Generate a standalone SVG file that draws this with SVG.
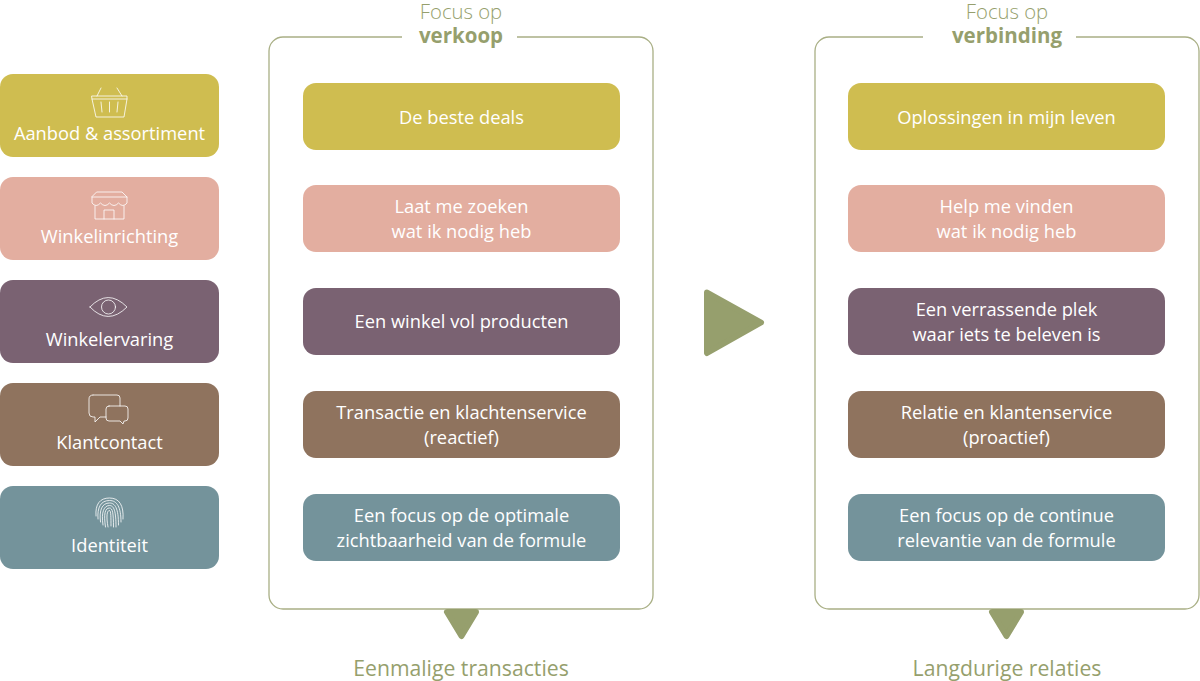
<svg xmlns="http://www.w3.org/2000/svg" width="1200" height="681" viewBox="0 0 1200 681">
<style>
text{font-family:"Open Sans","Noto Sans","Liberation Sans",sans-serif;text-anchor:middle}
.t{font-size:18.300px;fill:#fff}
.h{font-size:20.300px;fill:#969f6d;font-weight:300}
.b{font-size:20.500px;fill:#969f6d;font-weight:700}
.f{font-size:21.200px;fill:#969f6d}
.y{fill:#cfbd50}.p{fill:#e3aea0}.m{fill:#7a6272}.r{fill:#8f735e}.g{fill:#74939b}
.frame{fill:none;stroke:#a9af85;stroke-width:1.3}
.tri{fill:#969f6d;stroke:#969f6d;stroke-width:6;stroke-linejoin:round}
.i{fill:none;stroke:#fff;stroke-opacity:.8;stroke-width:1;stroke-linejoin:round;stroke-linecap:round}
</style>
<g id="connectors">
<path class="frame" d="M402 37H283a14 14 0 0 0-14 14V595a14 14 0 0 0 14 14H639a14 14 0 0 0 14-14V51a14 14 0 0 0-14-14H517"/>
<path class="frame" d="M923 37H829a14 14 0 0 0-14 14V595a14 14 0 0 0 14 14H1185a14 14 0 0 0 14-14V51a14 14 0 0 0-14-14H1076"/>
<path id="arrow-main" class="tri" d="M707 292.500L761 322.500L707 353Z"/>
<path id="arrow-left" class="tri" d="M447 612H476L461.500 636Z"/>
<path id="arrow-right" class="tri" d="M992 612H1021L1006.500 636Z"/>
</g>
<g id="head-left"><text class="h" x="461" y="19">Focus op</text><text class="b" x="461" y="43">verkoop</text></g>
<g id="head-right"><text class="h" x="1007" y="19">Focus op</text><text class="b" x="1007" y="43">verbinding</text></g>
<g id="foot-left"><text class="f" x="461" y="676">Eenmalige transacties</text></g>
<g id="foot-right"><text class="f" x="1007" y="676">Langdurige relaties</text></g>

<g id="n-aanbod"><rect class="y" x="0" y="74" width="219" height="83" rx="13"/>
<path class="i" d="M92 96H127V99L124 117H96L92 99ZM92 99H127M101 88L97 96M117 88L122 96M101 102L102 112M109.500 102V112M118 102L117 112"/>
<text class="t" x="109.500" y="140">Aanbod &amp; assortiment</text></g>
<g id="n-winkelinrichting"><rect class="p" x="0" y="177" width="219" height="83" rx="13"/>
<path class="i" d="M97 192H122L127 197V203Q123 208 118.500 203Q114 208 109.500 203Q105 208 100.500 203Q96 208 92 203V197ZM92 197H127M95 206V219H124V206M104 219V210H114V219"/>
<text class="t" x="109.500" y="243">Winkelinrichting</text></g>
<g id="n-winkelervaring"><rect class="m" x="0" y="280" width="219" height="83" rx="13"/>
<path class="i" d="M90 307Q108 288 127 307Q108 326 90 307Z"/><circle class="i" cx="108.500" cy="307" r="7"/>
<text class="t" x="109.500" y="346">Winkelervaring</text></g>
<g id="n-klantcontact"><rect class="r" x="0" y="383" width="219" height="83" rx="13"/>
<path class="i" d="M93 395H117Q120 395 120 398V406M106 417H100L95 422V417H93Q89 417 89 413V399Q89 395 93 395M109 406H125Q128 406 128 409V418Q128 421 125 421H124L123 424L120 421H109Q106 421 106 418V409Q106 406 109 406Z"/>
<text class="t" x="109.500" y="449">Klantcontact</text></g>
<g id="n-identiteit"><rect class="g" x="0" y="486" width="219" height="83" rx="13"/>
<path class="i" d="M96 516C95 504 100 498 109.500 498C119 498 124 505 123 519M98 519C97 507 101 500.500 109.500 500.500C117 500.500 121 507 121 522M100.500 522C99 510 102 503 109.500 503C115 503 118.500 508 118.500 525M103 525C101 512 104 505.500 109.500 505.500C114 505.500 116 511 116 527M105.500 527C103.500 514 105 508 109.500 508C112.500 508 113.500 513 113.500 527M108 527C106 516 107 510.500 109.500 510.500C111 510.500 111 518 111 526"/>
<text class="t" x="109.500" y="552">Identiteit</text></g>

<g id="l1"><rect class="y" x="303" y="83" width="317" height="67" rx="13"/><text class="t" x="461.500" y="124">De beste deals</text></g>
<g id="l2"><rect class="p" x="303" y="185" width="317" height="67" rx="13"/><text class="t" x="461.500" y="213">Laat me zoeken</text><text class="t" x="461.500" y="238">wat ik nodig heb</text></g>
<g id="l3"><rect class="m" x="303" y="288" width="317" height="67" rx="13"/><text class="t" x="461.500" y="328">Een winkel vol producten</text></g>
<g id="l4"><rect class="r" x="303" y="391" width="317" height="67" rx="13"/><text class="t" x="461.500" y="419">Transactie en klachtenservice</text><text class="t" x="461.500" y="444">(reactief)</text></g>
<g id="l5"><rect class="g" x="303" y="494" width="317" height="67" rx="13"/><text class="t" x="461.500" y="522">Een focus op de optimale</text><text class="t" x="461.500" y="547">zichtbaarheid van de formule</text></g>

<g id="r1"><rect class="y" x="848" y="83" width="317" height="67" rx="13"/><text class="t" x="1006.500" y="124">Oplossingen in mijn leven</text></g>
<g id="r2"><rect class="p" x="848" y="185" width="317" height="67" rx="13"/><text class="t" x="1006.500" y="213">Help me vinden</text><text class="t" x="1006.500" y="238">wat ik nodig heb</text></g>
<g id="r3"><rect class="m" x="848" y="288" width="317" height="67" rx="13"/><text class="t" x="1006.500" y="316">Een verrassende plek</text><text class="t" x="1006.500" y="341">waar iets te beleven is</text></g>
<g id="r4"><rect class="r" x="848" y="391" width="317" height="67" rx="13"/><text class="t" x="1006.500" y="419">Relatie en klantenservice</text><text class="t" x="1006.500" y="444">(proactief)</text></g>
<g id="r5"><rect class="g" x="848" y="494" width="317" height="67" rx="13"/><text class="t" x="1006.500" y="522">Een focus op de continue</text><text class="t" x="1006.500" y="547">relevantie van de formule</text></g>
</svg>
